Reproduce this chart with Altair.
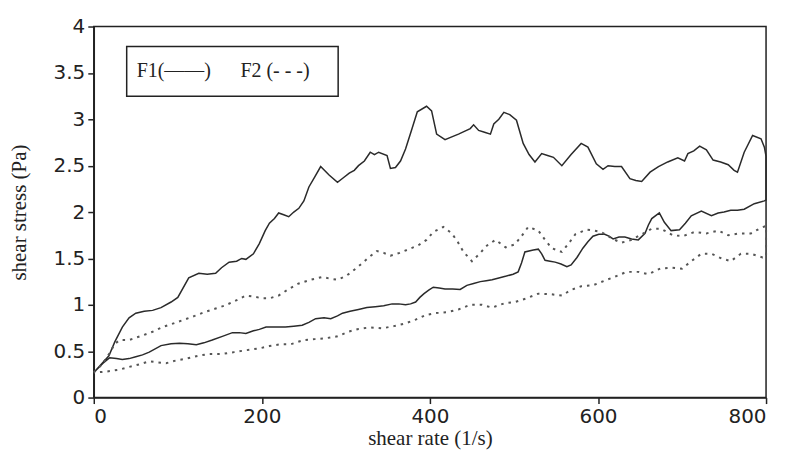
import altair as alt
import pandas as pd

# ---- data ----
f1_upper_x = [0,10,18,25,34,42,50,60,70,80,92,100,113,125,135,145,152,161,170,176,181,190,197,204,209,215,220,226,232,238,244,250,256,263,270,280,290,297,304,310,315,322,329,334,339,349,353,359,365,371,378,385,396,402,408,418,426,434,441,448,452,458,465,472,476,482,488,495,503,511,518,525,533,540,547,557,568,580,588,598,606,612,620,628,638,645,652,662,672,683,695,703,707,714,721,729,737,746,755,762,766,774,784,794,798,800]
f1_upper_y = [0.27,0.37,0.45,0.6,0.76,0.86,0.91,0.93,0.94,0.97,1.03,1.08,1.29,1.34,1.33,1.34,1.4,1.46,1.47,1.5,1.49,1.55,1.66,1.80,1.88,1.93,1.99,1.97,1.95,2.0,2.04,2.12,2.27,2.38,2.49,2.40,2.32,2.37,2.42,2.45,2.50,2.55,2.645,2.62,2.645,2.61,2.47,2.48,2.55,2.68,2.88,3.08,3.14,3.09,2.84,2.78,2.81,2.84,2.87,2.90,2.94,2.88,2.86,2.84,2.95,3.0,3.075,3.05,2.99,2.74,2.62,2.54,2.63,2.61,2.59,2.50,2.62,2.74,2.70,2.52,2.46,2.50,2.49,2.49,2.36,2.34,2.33,2.43,2.49,2.54,2.585,2.55,2.63,2.66,2.71,2.67,2.56,2.54,2.51,2.45,2.43,2.645,2.825,2.79,2.70,2.60]

f1_lower_x = [0,11,19,27,34,42,50,58,66,80,92,102,112,122,131,141,153,165,173,181,190,197,205,215,228,238,248,256,264,274,282,290,296,305,315,325,335,345,355,363,371,377,383,388,393,399,404,411,418,427,436,444,452,460,467,474,482,491,499,505,509,513,523,529,533,537,543,549,556,563,568,575,582,588,594,601,608,613,618,625,632,640,648,656,660,664,673,679,687,697,704,711,723,735,743,750,758,766,774,786,798,800]
f1_lower_y = [0.27,0.37,0.43,0.42,0.41,0.42,0.44,0.46,0.49,0.56,0.58,0.585,0.58,0.57,0.59,0.62,0.66,0.70,0.70,0.69,0.72,0.735,0.76,0.76,0.76,0.77,0.78,0.81,0.85,0.86,0.85,0.88,0.91,0.93,0.95,0.97,0.98,0.99,1.01,1.01,1.00,1.01,1.03,1.08,1.12,1.16,1.19,1.18,1.17,1.17,1.165,1.21,1.23,1.25,1.26,1.27,1.29,1.31,1.33,1.355,1.45,1.57,1.59,1.60,1.55,1.48,1.47,1.46,1.44,1.41,1.43,1.51,1.61,1.68,1.74,1.76,1.76,1.74,1.71,1.73,1.73,1.71,1.70,1.77,1.86,1.93,1.99,1.89,1.80,1.81,1.88,1.96,2.01,1.96,1.99,2.0,2.02,2.02,2.03,2.09,2.12,2.13]

f2_upper_x = [0,10,19,25,31,42,58,70,82,95,106,120,133,145,157,170,181,190,200,209,220,232,244,258,272,282,290,300,307,319,327,337,345,353,364,375,386,396,404,416,426,433,440,450,459,468,478,490,501,509,517,529,537,545,557,565,573,586,596,604,612,620,628,640,652,664,675,689,701,715,729,743,755,768,782,794,800]
f2_upper_y = [0.27,0.36,0.48,0.58,0.62,0.62,0.67,0.71,0.76,0.80,0.835,0.88,0.925,0.96,0.995,1.05,1.10,1.09,1.07,1.07,1.10,1.17,1.23,1.27,1.30,1.28,1.27,1.31,1.355,1.445,1.51,1.58,1.56,1.53,1.56,1.60,1.64,1.70,1.785,1.84,1.77,1.68,1.57,1.47,1.55,1.64,1.70,1.62,1.65,1.74,1.84,1.80,1.70,1.61,1.57,1.66,1.76,1.81,1.80,1.785,1.74,1.70,1.67,1.70,1.76,1.82,1.82,1.75,1.74,1.785,1.77,1.80,1.75,1.77,1.77,1.83,1.85]

f2_lower_x = [0,15,30,42,55,66,76,86,98,110,124,137,153,167,181,197,209,222,234,250,263,276,290,303,315,329,343,357,371,383,395,406,420,434,448,462,474,490,501,515,529,543,557,568,580,594,608,622,634,648,660,674,687,700,711,723,735,747,758,770,782,796,800]
f2_lower_y = [0.27,0.28,0.30,0.33,0.36,0.39,0.38,0.37,0.40,0.42,0.45,0.47,0.47,0.49,0.51,0.53,0.555,0.574,0.574,0.62,0.63,0.64,0.66,0.71,0.74,0.757,0.746,0.77,0.80,0.84,0.89,0.91,0.92,0.95,1.00,1.00,0.97,1.02,1.03,1.07,1.12,1.115,1.10,1.16,1.20,1.21,1.26,1.31,1.355,1.355,1.33,1.39,1.40,1.39,1.47,1.55,1.55,1.50,1.47,1.55,1.55,1.51,1.52]

x_ticks = [0, 200, 400, 600, 800]
y_ticks = [0, 0.5, 1, 1.5, 2, 2.5, 3, 3.5, 4]
legend_texts = ["F1(——)", "F2 (- - -)"]


def loop(name, ux, uy, lx, ly):
    xs = list(ux) + list(reversed(lx))
    ys = list(uy) + list(reversed(ly))
    return pd.DataFrame({"series": name, "rate": xs, "stress": ys, "order": range(len(xs))})


df = pd.concat([
    loop("F1", f1_upper_x, f1_upper_y, f1_lower_x, f1_lower_y),
    loop("F2", f2_upper_x, f2_upper_y, f2_lower_x, f2_lower_y),
])

xs = alt.X("rate:Q", scale=alt.Scale(domain=[0, 800], nice=False),
           axis=alt.Axis(values=x_ticks, title="shear rate (1/s)", grid=False,
                         tickSize=6, labelPadding=3, titlePadding=1,
                         format="d"))
ys = alt.Y("stress:Q", scale=alt.Scale(domain=[0, 4], nice=False),
           axis=alt.Axis(values=y_ticks, title="shear stress (Pa)", grid=False,
                         tickSize=6, labelPadding=3, titlePadding=24,
                         format=".1~f"))

base = alt.Chart(df).encode(x=xs, y=ys, order="order:Q", detail="series:N")

f1 = base.transform_filter(alt.datum.series == "F1").mark_line(
    color="#2a2a2a", strokeWidth=1.5)
f2 = base.transform_filter(alt.datum.series == "F2").mark_line(
    color="#555555", strokeWidth=2, strokeDash=[2.5, 5])

legend_box = alt.Chart(pd.DataFrame({"a": [0]})).mark_rect(
    fill="white", stroke="#222", strokeWidth=1.5
).encode(x=alt.value(33), x2=alt.value(245), y=alt.value(20), y2=alt.value(70))

legend_f1 = alt.Chart(pd.DataFrame({"t": [legend_texts[0]]})).mark_text(
    align="left", baseline="middle", font="Liberation Serif", fontSize=20, color="#222"
).encode(x=alt.value(43), y=alt.value(45), text="t:N")

legend_f2 = alt.Chart(pd.DataFrame({"t": [legend_texts[1]]})).mark_text(
    align="left", baseline="middle", font="Liberation Serif", fontSize=20, color="#222"
).encode(x=alt.value(147), y=alt.value(45), text="t:N")

chart = alt.layer(f1, f2, legend_box, legend_f1, legend_f2).properties(
    width=674, height=372,
    autosize=alt.AutoSizeParams(type="none"),
    padding={"left": 86, "top": 18, "right": 20, "bottom": 52},
).configure_view(
    stroke="#222", strokeWidth=1.5
).configure_axis(
    domainColor="#222", domainWidth=1.5, tickColor="#222", tickWidth=1.5,
    labelFont="DejaVu Sans", labelFontSize=20, labelColor="#222",
    titleFont="Liberation Serif", titleFontSize=21, titleFontWeight="normal",
    titleColor="#222",
)

chart.save("out.html", embed_options={"renderer": "svg", "actions": False})
